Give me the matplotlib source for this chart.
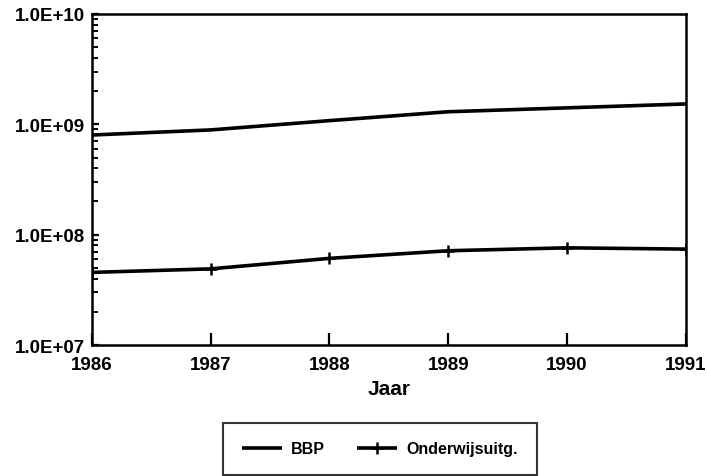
import matplotlib
matplotlib.use("Agg")
import matplotlib.pyplot as plt
from matplotlib.ticker import LogLocator, FixedLocator, FixedFormatter, NullFormatter

# Yearly figures (guilders), 1986-1991
years = [1986, 1987, 1988, 1989, 1990, 1991]
bbp = [8.0e8, 8.9e8, 1.08e9, 1.30e9, 1.41e9, 1.53e9]
onderwijs = [4.55e7, 4.9e7, 6.1e7, 7.15e7, 7.6e7, 7.4e7]

y_ticks = [1e7, 1e8, 1e9, 1e10]
y_tick_labels = ["1.0E+07", "1.0E+08", "1.0E+09", "1.0E+10"]
x_tick_labels = [str(y) for y in years]

plt.rcParams["font.family"] = ["Liberation Sans", "DejaVu Sans"]

fig = plt.figure(figsize=(7.07, 4.77), dpi=100)
ax = fig.add_axes([0.130, 0.2746, 0.840, 0.694])

ax.plot(years, bbp, color="black", lw=2.6, solid_capstyle="butt", label="BBP")
ax.plot(years, onderwijs, color="black", lw=2.6, marker="+", ms=9, mew=1.8,
        solid_capstyle="butt", label="Onderwijsuitg.")

ax.set_yscale("log")
ax.set_ylim(1e7, 1e10)
ax.set_xlim(years[0], years[-1])

ax.yaxis.set_major_locator(FixedLocator(y_ticks))
ax.yaxis.set_major_formatter(FixedFormatter(y_tick_labels))
ax.yaxis.set_minor_locator(LogLocator(base=10, subs=range(2, 10)))
ax.yaxis.set_minor_formatter(NullFormatter())

ax.xaxis.set_major_locator(FixedLocator(years))
ax.xaxis.set_major_formatter(FixedFormatter(x_tick_labels))

for s in ax.spines.values():
    s.set_linewidth(1.8)
    s.set_color("black")

ax.tick_params(axis="y", which="major", direction="in", length=5, width=1.6,
               pad=5, labelsize=13.5)
ax.tick_params(axis="y", which="minor", direction="in", length=4, width=1.4)
ax.tick_params(axis="x", which="major", direction="in", length=9, width=1.6,
               pad=8, labelsize=13.5)
for lab in ax.get_xticklabels() + ax.get_yticklabels():
    lab.set_fontweight("heavy")

ax.set_xlabel("Jaar", fontsize=15, fontweight="heavy", labelpad=4)

leg = fig.legend(loc="center", bbox_to_anchor=(0.5375, 0.057), ncol=2,
                 frameon=True, fancybox=False, edgecolor="black",
                 prop={"size": 11.5, "weight": "heavy"}, handlelength=2.5,
                 columnspacing=2.0, borderpad=1.15, handletextpad=0.6)
leg.get_frame().set_linewidth(1.5)

fig.savefig("out.png", dpi=100, facecolor="white")
